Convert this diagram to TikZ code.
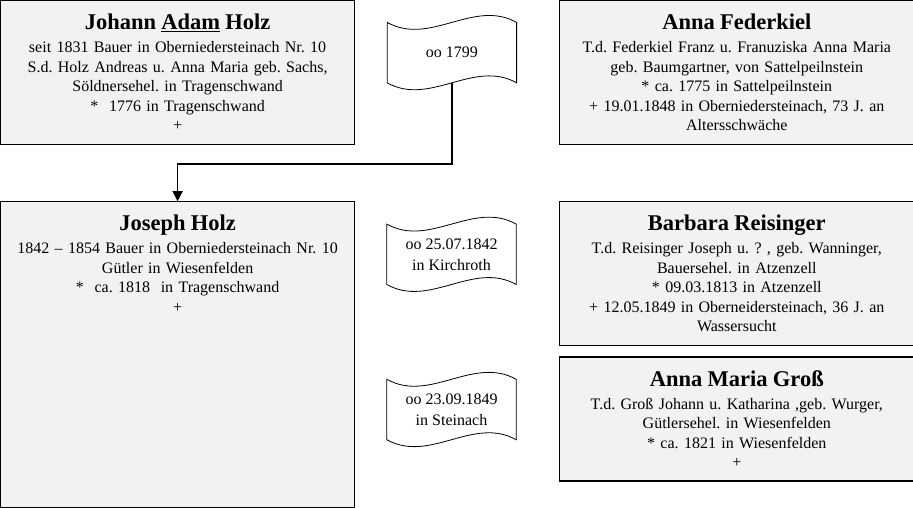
\documentclass[tikz,border=0pt]{standalone}
\usepackage{fontspec}
\setmainfont{Liberation Serif}
\usetikzlibrary{arrows.meta}
\usetikzlibrary{positioning}
\definecolor{boxgray}{RGB}{242,242,242}
\tikzstyle{person} = [rectangle, draw=black, line width=1.2pt, fill=boxgray, text width=348pt,
inner xsep=3pt, inner ysep=0pt, align=center, text height=29pt, font=\fontsize{16}{19.5}\selectfont]
\tikzstyle{heirat} = [rectangle, minimum width=129pt, minimum height=60pt, inner sep=0pt,
align=center, font=\fontsize{16}{21}\selectfont]
\tikzstyle{fahne} = [draw=black, line width=0.8pt]
\tikzstyle{arrow} = [line width=1.5pt, -{Triangle[length=10pt,width=10pt]}]
\newcommand{\titel}[1]{{\fontsize{22.5}{24}\selectfont\bfseries #1}\\[3.5pt]}

\begin{document}
\frenchspacing
\begin{tikzpicture}
    \useasboundingbox (0,0) rectangle (913pt,-507pt);

    \node (johann) [person, anchor=north west, text depth=115pt] at (0,0) {\titel{Johann \underline{Adam} Holz}
        seit 1831 Bauer in Oberniedersteinach Nr. 10\\S.d. Holz Andreas u. Anna Maria geb. Sachs,\\
        Söldnersehel. in Tragenschwand\\{*}\ \ 1776 in Tragenschwand\\+};
    \node (joseph) [person, below=56pt of johann, text depth=277pt] {\titel{Joseph Holz}
        1842 – 1854 Bauer in Oberniedersteinach Nr. 10\\Gütler in Wiesenfelden\\
        {*}\ \ ca. 1818\ \ in Tragenschwand\\+};
    \node (federkiel) [person, right=204pt of johann, text depth=115pt] {\titel{Anna Federkiel}
        T.d. Federkiel Franz u. Franuziska Anna Maria\\geb. Baumgartner, von Sattelpeilnstein\\
        {*} ca. 1775 in Sattelpeilnstein\\+ 19.01.1848 in Oberniedersteinach, 73 J. an\\Altersschwäche};
    \node (reisinger) [person, below=56pt of federkiel, text depth=115pt] {\titel{Barbara Reisinger}
        T.d. Reisinger Joseph u. ? , geb. Wanninger,\\Bauersehel. in Atzenzell\\
        {*} 09.03.1813 in Atzenzell\\+ 12.05.1849 in Oberneidersteinach, 36 J. an\\Wassersucht};
    \node (gross) [person, below=10pt of reisinger, text depth=95pt] {\titel{Anna Maria Groß}
        T.d. Groß Johann u. Katharina ,geb. Wurger,\\Gütlersehel. in Wiesenfelden\\
        {*} ca. 1821 in Wiesenfelden\\+};

    \node (ban1) [heirat, right=32pt of johann, yshift=20pt] {oo 1799};
    \node (ban2) [heirat, left=43pt of reisinger, yshift=19.5pt] {oo 25.07.1842\\in Kirchroth};
    \node (ban3) [heirat, left=43pt of gross, yshift=9.5pt] {oo 23.09.1849\\in Steinach};

    % Fahnen um die Heiratsdaten
    \foreach \b in {ban1,ban2,ban3}
        \draw[fahne] (\b.north west) .. controls ([xshift=43pt,yshift=-24pt]\b.north west)
        and ([xshift=-43pt,yshift=24pt]\b.north east) .. (\b.north east) -- (\b.south east)
        .. controls ([xshift=-43pt,yshift=24pt]\b.south east) and ([xshift=43pt,yshift=-24pt]\b.south west)
        .. (\b.south west) -- cycle;

    \draw[arrow] (ban1.south) |- ([yshift=37pt]joseph.north) -- (joseph.north);

\end{tikzpicture}
\end{document}
